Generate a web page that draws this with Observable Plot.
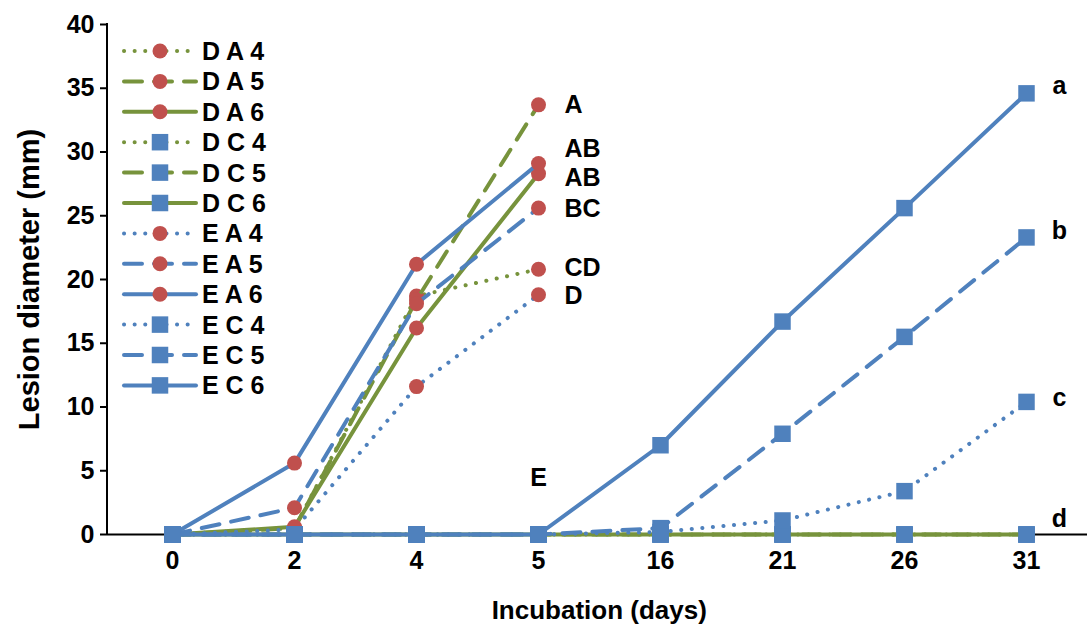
<!DOCTYPE html>
<html><head><meta charset="utf-8">
<script src="https://cdn.jsdelivr.net/npm/d3@7"></script>
<script src="https://cdn.jsdelivr.net/npm/@observablehq/plot@0.6"></script>
<style>body{margin:0;background:#fff}</style>
</head><body><div id="chart"></div>
<script>
// ---- data ----
const days = ["0","2","4","5","16","21","26","31"];
const seriesNames = ["D A 4","D A 5","D A 6","D C 4","D C 5","D C 6","E A 4","E A 5","E A 6","E C 4","E C 5","E C 6"];
const DA4 = [0, 0.5, 18.7, 20.8];
const DA5 = [0, 0.5, 18.4, 33.7];
const DA6 = [0, 0.6, 16.2, 28.3];
const DC4 = [0, 0, 0, 0, 0, 0, 0, 0];
const DC5 = [0, 0, 0, 0, 0, 0, 0, 0];
const DC6 = [0, 0, 0, 0, 0, 0, 0, 0];
const EA4 = [0, 0.4, 11.6, 18.8];
const EA5 = [0, 2.1, 18.1, 25.6];
const EA6 = [0, 5.6, 21.2, 29.1];
const EC4 = [0, 0, 0, 0, 0.2, 1.1, 3.4, 10.4];
const EC5 = [0, 0, 0, 0, 0.5, 7.9, 15.5, 23.3];
const EC6 = [0, 0, 0, 0, 7.0, 16.7, 25.6, 34.6];
const seriesValues = [DA4, DA5, DA6, DC4, DC5, DC6, EA4, EA5, EA6, EC4, EC5, EC6];
const yTicks = [0, 5, 10, 15, 20, 25, 30, 35, 40];
const gradeLabels = ["A", "AB", "AB", "BC", "CD", "D"];
const gradeY = [33.7, 30.2, 28.0, 25.5, 20.9, 18.7];
const letterLabels = ["a", "b", "c", "d"];
const letterY = [35.2, 23.8, 10.7, 1.25];
const eLabel = ["E"];
const eLabelY = [4.4];

// ---- styles ----
const GREEN = "#77933C", BLUE = "#4F81BD", RED = "#C0504D";
const FONT = "'Liberation Sans', Arial, sans-serif";
function styleOf(name) {
  const [host, type, n] = name.split(" ");
  return {
    stroke: host === "D" ? GREEN : BLUE,
    symbol: type === "A" ? "circle" : "square",
    fill: type === "A" ? RED : BLUE,
    r: type === "A" ? 7.5 : 9.3,
    dash: n === "4" ? "0.1,10.5" : n === "5" ? "18,12" : null
  };
}
const heavy = {fill: "black"};

const marks = [];
marks.push(Plot.ruleY([0], {stroke: "black", strokeWidth: 2}));
// y-axis line
marks.push((index, scales, values, dims) => {
  const g = d3.create("svg:line")
    .attr("x1", dims.marginLeft).attr("x2", dims.marginLeft)
    .attr("y1", dims.marginTop - 1).attr("y2", dims.height - dims.marginBottom + 1)
    .attr("stroke", "black").attr("stroke-width", 2);
  return g.node();
});

seriesNames.forEach((name, si) => {
  const st = styleOf(name);
  const rows = seriesValues[si].map((v, i) => ({day: days[i], value: v}));
  marks.push(Plot.line(rows, {
    x: "day", y: "value", stroke: st.stroke, strokeWidth: 4,
    strokeDasharray: st.dash, strokeLinecap: "round", strokeLinejoin: "round"
  }));
  marks.push(Plot.dot(rows, {
    x: "day", y: "value", symbol: st.symbol, r: st.r, fill: st.fill, stroke: "none"
  }));
});

// annotations
marks.push(Plot.text(gradeLabels.map((t, i) => ({t, y: gradeY[i]})), {
  x: () => "5", y: "y", text: "t", dx: 26, textAnchor: "start",
  fontSize: 25, fontWeight: "bold", ...heavy
}));
marks.push(Plot.text(eLabel.map((t, i) => ({t, y: eLabelY[i]})), {
  x: () => "5", y: "y", text: "t", fontSize: 25, fontWeight: "bold", ...heavy
}));
marks.push(Plot.text(letterLabels.map((t, i) => ({t, y: letterY[i]})), {
  x: () => "31", y: "y", text: "t", dx: 33, fontSize: 25, fontWeight: "bold", ...heavy
}));

// axes
marks.push(Plot.axisY({ticks: yTicks, tickSize: 7, tickPadding: 6, fontSize: 25, fontWeight: "bold",
  label: null, strokeWidth: 2, fill: "black", stroke: "black"}));
marks.push(Plot.axisX({tickSize: 0, tickPadding: 17, fontSize: 25, fontWeight: "bold", label: null, fill: "black"}));
marks.push(Plot.text(["Lesion diameter (mm)"], {frameAnchor: "left", dx: -78, rotate: -90,
  textAnchor: "middle", lineAnchor: "middle", fontSize: 29, fontWeight: "bold", ...heavy}));
marks.push(Plot.text(["Incubation (days)"], {frameAnchor: "bottom", dy: 76,
  textAnchor: "middle", lineAnchor: "middle", fontSize: 26, fontWeight: "bold", ...heavy}));

// legend
marks.push((index, scales, values, dims) => {
  const g = d3.create("svg:g");
  seriesNames.forEach((name, i) => {
    const st = styleOf(name);
    const y = 51 + i * 30.4;
    g.append("line").attr("x1", 124).attr("x2", 196).attr("y1", y).attr("y2", y)
      .attr("stroke", st.stroke).attr("stroke-width", 4).attr("stroke-linecap", "round")
      .attr("stroke-dasharray", st.dash);
    if (st.symbol === "circle") {
      g.append("circle").attr("cx", 160).attr("cy", y).attr("r", st.r).attr("fill", st.fill);
    } else {
      const s = 16.5;
      g.append("rect").attr("x", 160 - s / 2).attr("y", y - s / 2).attr("width", s).attr("height", s).attr("fill", st.fill);
    }
    g.append("text").attr("x", 202).attr("y", y).attr("dy", "0.36em").attr("text-anchor", "start")
      .attr("font-size", 25).attr("font-weight", "bold").attr("fill", "black").text(name);
  });
  return g.node();
});

const chart = Plot.plot({
  width: 1087, height: 626,
  marginLeft: 107, marginRight: -3.5, marginTop: 24, marginBottom: 92,
  style: {fontFamily: FONT, background: "white", color: "black", overflow: "visible"},
  x: {type: "point", domain: days, padding: 0.5},
  y: {domain: [0, 40]},
  marks
});
document.getElementById("chart").appendChild(chart);
</script>
</body></html>
